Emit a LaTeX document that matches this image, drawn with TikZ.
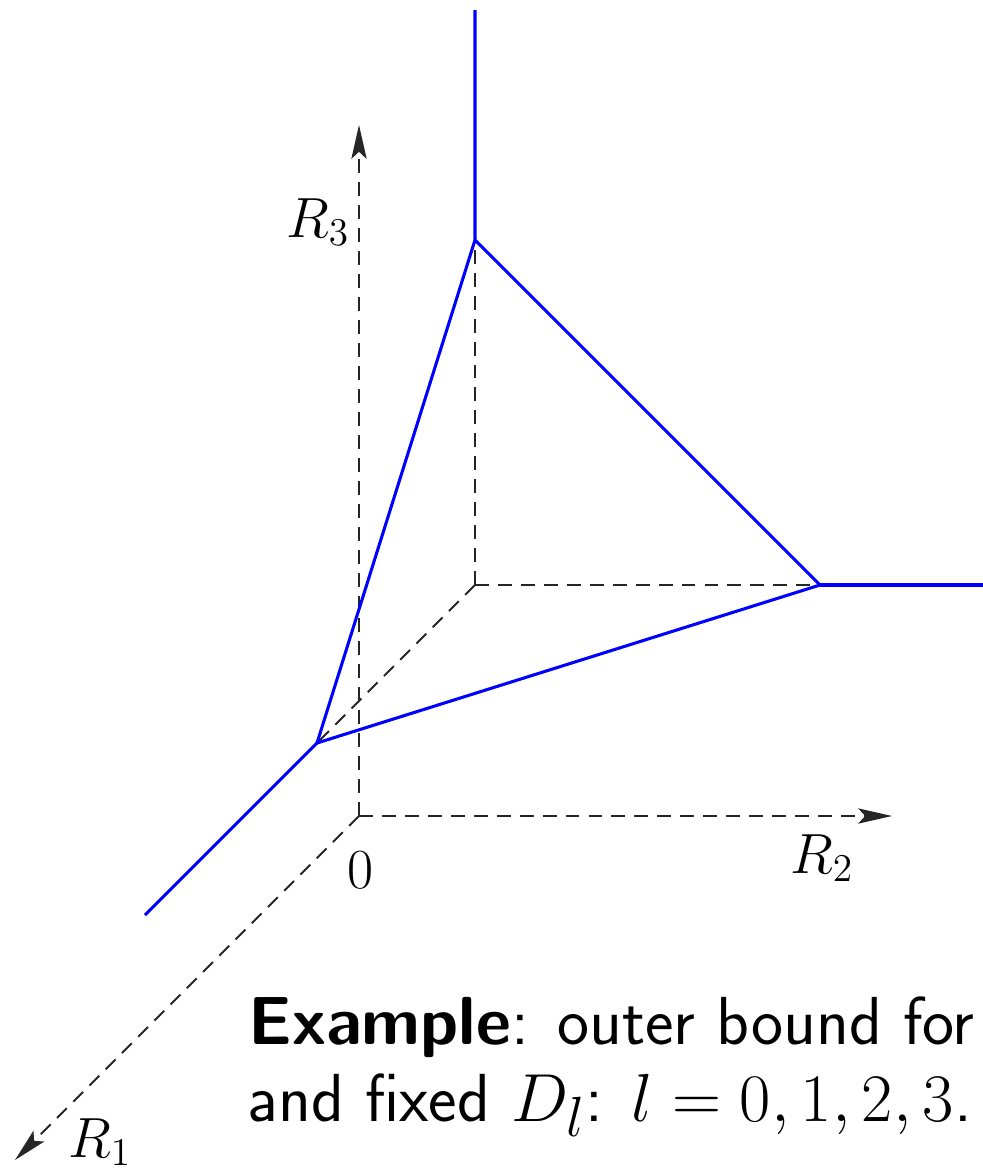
\documentclass[tikz,border=0pt]{standalone}
\usetikzlibrary{arrows.meta}
\begin{document}
\begin{tikzpicture}[x=0.366pt,y=-0.366pt,
  axis/.style={black!85,line width=0.68pt,dash pattern=on 5.1pt off 3.3pt,-{Stealth[length=12.4pt,width=5.6pt,inset=2.6pt]}},
  guide/.style={black!85,line width=0.68pt,dash pattern=on 5.1pt off 3.3pt},
  bound/.style={blue,line width=1.12pt,line join=miter},
  lab/.style={font=\fontsize{20.74}{25}\selectfont,inner sep=0pt},
  captext/.style={font=\sffamily\fontsize{24.88}{30}\selectfont,inner sep=0pt,anchor=base west}]
\clip (0,0) rectangle (983,1170);
\useasboundingbox (0,0) rectangle (983,1170);
% coordinates
\coordinate (O) at (359,816);
\coordinate (X1) at (15,1160);
\coordinate (X2) at (892,816);
\coordinate (X3) at (359,125);
\coordinate (K) at (475,585);
\coordinate (A) at (475,240);
\coordinate (B) at (820,585);
\coordinate (C) at (317,743);
\coordinate (Atop) at (475,10);
\coordinate (Bend) at (990,585);
\coordinate (Cend) at (145,915);
% axes
\draw[axis] (O) -- (X1);
\draw[axis] (O) -- (X2);
\draw[axis] (O) -- (X3);
% guides
\draw[guide] (K) -- (A);
\draw[guide] (K) -- (B);
\draw[guide] (K) -- (C);
% outer bound
\draw[bound] (Atop) -- (A) -- (B) -- (C) -- (A);
\draw[bound] (B) -- (Bend);
\draw[bound] (C) -- (Cend);
% labels
\node[lab] (l3) at (318,222) {$R_3$};
\node[lab] (l2) at (822,858) {$R_2$};
\node[lab] (l1) at (100,1142) {$R_1$};
\node[lab] (l0) at (360,870) {$0$};
\node[captext] (c1) at (248,1044) {\textbf{Example}: outer bound for};
\node[captext] (c2) at (247,1121) {and fixed $D_l$: $l=0,1,2,3$.};
\end{tikzpicture}
\end{document}
